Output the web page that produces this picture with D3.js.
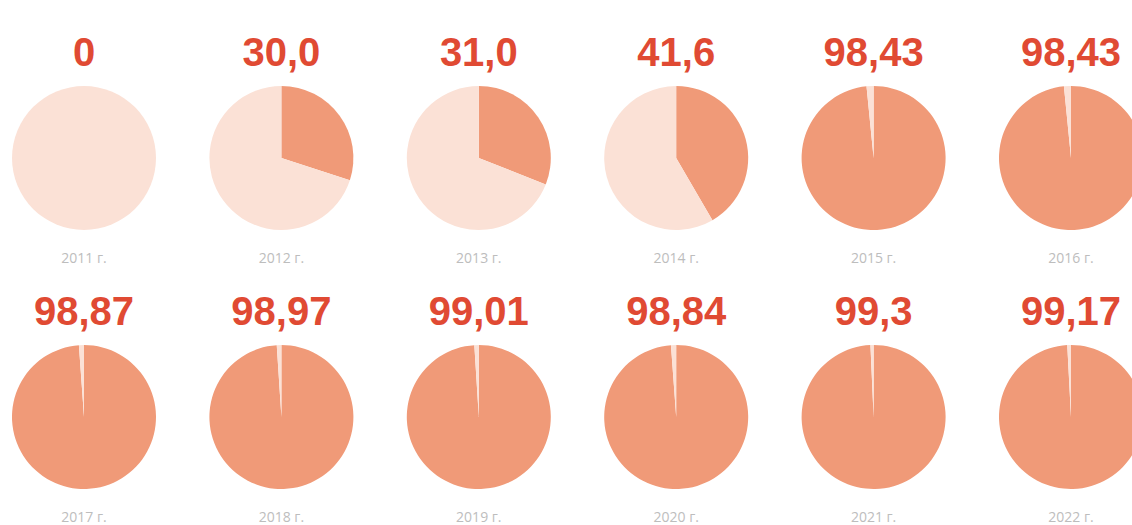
<!DOCTYPE html>
<html><head><meta charset="utf-8">
<script src="https://cdn.jsdelivr.net/npm/d3@7"></script>
<style>
html,body{margin:0;padding:0;background:#fff;}
svg{display:block;}
</style></head>
<body>
<svg id="chart" width="1132" height="525"></svg>
<script>
const years = ["2011 г.","2012 г.","2013 г.","2014 г.","2015 г.","2016 г.","2017 г.","2018 г.","2019 г.","2020 г.","2021 г.","2022 г."];
const values = [0, 30.0, 31.0, 41.6, 98.43, 98.43, 98.87, 98.97, 99.01, 98.84, 99.3, 99.17];
const valueLabels = ["0","30,0","31,0","41,6","98,43","98,43","98,87","98,97","99,01","98,84","99,3","99,17"];

const svg = d3.select("#chart");
const cols = 6;
const x = d3.scalePoint().domain(d3.range(cols)).range([84, 1071]);
const rowY = [158, 417];
const r = 72;
const pie = d3.pie().sort(null).value(d => d);
const arc = d3.arc().innerRadius(0).outerRadius(r);
const colors = ["#F09A78", "#FBE1D6"];

values.forEach((v, i) => {
  const cx = x(i % cols), cy = rowY[Math.floor(i / cols)];
  const g = svg.append("g").attr("transform", `translate(${cx},${cy})`);
  g.selectAll("path").data(pie([v, 100 - v])).join("path")
    .attr("d", arc).attr("fill", (d, j) => colors[j]);
  g.append("text").attr("y", -92).attr("text-anchor", "middle")
    .attr("font-family", "Liberation Sans, Arial, sans-serif")
    .attr("font-weight", "bold").attr("font-size", 40)
    .attr("fill", "#E04A33").text(valueLabels[i]);
  g.append("text").attr("y", 105).attr("text-anchor", "middle")
    .attr("font-family", "Open Sans, sans-serif")
    .attr("font-size", 14).attr("fill", "#BDBDBD").text(years[i]);
});
</script>
</body></html>
